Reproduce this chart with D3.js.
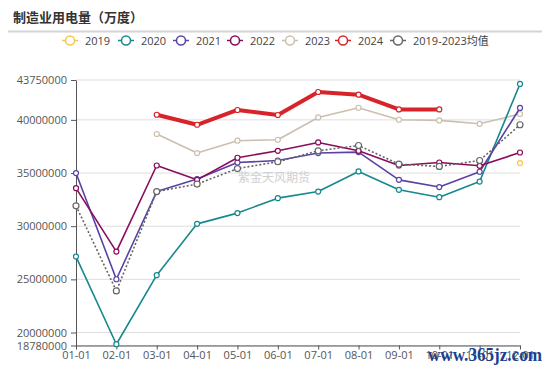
<!DOCTYPE html>
<html><head><meta charset="utf-8">
<script src="https://cdn.jsdelivr.net/npm/d3@7"></script>
<style>body{margin:0;background:#fff}svg{display:block}</style>
</head><body>
<svg id="c" width="550" height="365"></svg>
<script>
const months = ["01-01","02-01","03-01","04-01","05-01","06-01","07-01","08-01","09-01","10-01","11-01","12-01"];
const yTicks = [18780000, 20000000, 25000000, 30000000, 35000000, 40000000, 43750000];
const s2019 = [null,null,null,null,null,null,null,null,null,null,null,35940000];
const s2020 = [27140000,18900000,25390000,30220000,31230000,32640000,33260000,35150000,33420000,32730000,34200000,43380000];
const s2021 = [35000000,25010000,33260000,34430000,35990000,36180000,36880000,36970000,34360000,33680000,35120000,41120000];
const s2022 = [33580000,27610000,35710000,34360000,36440000,37090000,37880000,37090000,35710000,35990000,35680000,36930000];
const s2023 = [null,null,38670000,36880000,38040000,38130000,40230000,41140000,40010000,39950000,39630000,40550000];
const s2024 = [null,null,40480000,39540000,40930000,40460000,42620000,42370000,40980000,40980000];
const sAvg  = [31920000,23910000,33260000,33960000,35420000,36060000,37090000,37590000,35840000,35620000,36180000,39540000];
const seriesNames = ["2019","2020","2021","2022","2023","2024","2019-2023均值"];
const seriesData = [s2019,s2020,s2021,s2022,s2023,s2024,sAvg];
const colors = ["#f6c945","#16888e","#5a41a6","#8a0c5c","#cbbfae","#d9232a","#666666"];

const svg = d3.select("#c");
const font = "'Open Sans','Noto Sans CJK SC',sans-serif";
const x = d3.scalePoint().domain(months).range([76, 520]);
const y = d3.scaleLinear().domain([18780000, 43750000]).range([345.5, 80]);

// title
svg.append("text").attr("x", 13).attr("y", 22).text("制造业用电量（万度）")
  .attr("font-family", "'Noto Sans CJK SC',sans-serif").attr("font-weight", "bold")
  .attr("font-size", 13).attr("fill", "#333");
svg.append("line").attr("x1", 8).attr("x2", 542).attr("y1", 31.5).attr("y2", 31.5)
  .attr("stroke", "#d4d4d4").attr("stroke-width", 2);

// legend
const legX = [70, 126, 181, 235, 290, 343, 398];
seriesNames.forEach((n, i) => {
  const g = svg.append("g").attr("transform", `translate(${legX[i]},40.5)`);
  g.append("line").attr("x1", -8).attr("x2", 8).attr("stroke", colors[i]).attr("stroke-width", 1.5);
  g.append("circle").attr("r", 4.5).attr("fill", "#fff").attr("stroke", colors[i]).attr("stroke-width", 1.5);
  g.append("text").attr("x", 15).attr("y", 4).text(n).attr("font-family", font)
    .attr("font-size", 11).attr("fill", "#444");
});

// grid
svg.append("g").selectAll("line").data(yTicks).join("line")
  .attr("x1", 76).attr("x2", 520).attr("y1", d => y(d)).attr("y2", d => y(d))
  .attr("stroke", "#dedede").attr("stroke-width", 1);

// axes
const ya = svg.append("g").attr("transform", "translate(76,0)")
  .call(d3.axisLeft(y).tickValues(yTicks).tickFormat(d3.format("d")).tickSize(5).tickSizeOuter(0));
ya.select(".domain").attr("stroke", "#555");
ya.selectAll(".tick line").attr("stroke", "#555");
ya.selectAll("text").attr("font-family", font).attr("font-size", 11).attr("fill", "#555").attr("dx", "-1");

const xa = svg.append("g").attr("transform", "translate(0,345.5)")
  .call(d3.axisBottom(x).tickSize(4).tickSizeOuter(0));
xa.select(".domain").attr("stroke", "#555");
xa.selectAll(".tick line").attr("stroke", "#555");
xa.selectAll("text").attr("font-family", font).attr("font-size", 11).attr("fill", "#555").attr("dy", "0.6em");

// watermark
svg.append("text").attr("x", 238).attr("y", 182).text("紫金天风期货")
  .attr("font-family", "'Noto Sans CJK SC',sans-serif").attr("font-size", 12).attr("fill", "#d0d0d0");

// lines
const line = d3.line().defined(d => d[1] != null).x(d => x(d[0])).y(d => y(d[1]));
const order = [4, 1, 2, 3, 6, 5, 0];
order.forEach(i => {
  const pts = seriesData[i].map((v, j) => [months[j], v]);
  const w = i === 5 ? 4 : 1.6;
  svg.append("path").datum(pts).attr("d", line).attr("fill", "none")
    .attr("stroke", colors[i]).attr("stroke-width", w)
    .attr("stroke-dasharray", i === 6 ? "2,2" : null).attr("stroke-linejoin", "round");
  svg.append("g").selectAll("circle").data(pts.filter(d => d[1] != null)).join("circle")
    .attr("cx", d => x(d[0])).attr("cy", d => y(d[1])).attr("r", i === 6 ? 3 : 2.5)
    .attr("fill", "#fff").attr("stroke", colors[i]).attr("stroke-width", 1.2);
});

// site mark
svg.append("text").attr("x", 428).attr("y", 361).text("www.365jz.com")
  .attr("font-family", "'Liberation Serif',serif").attr("font-weight", "bold")
  .attr("font-size", 19).attr("textLength", 114).attr("lengthAdjust", "spacingAndGlyphs")
  .attr("fill", "#1c3f8f");
</script>
</body></html>
